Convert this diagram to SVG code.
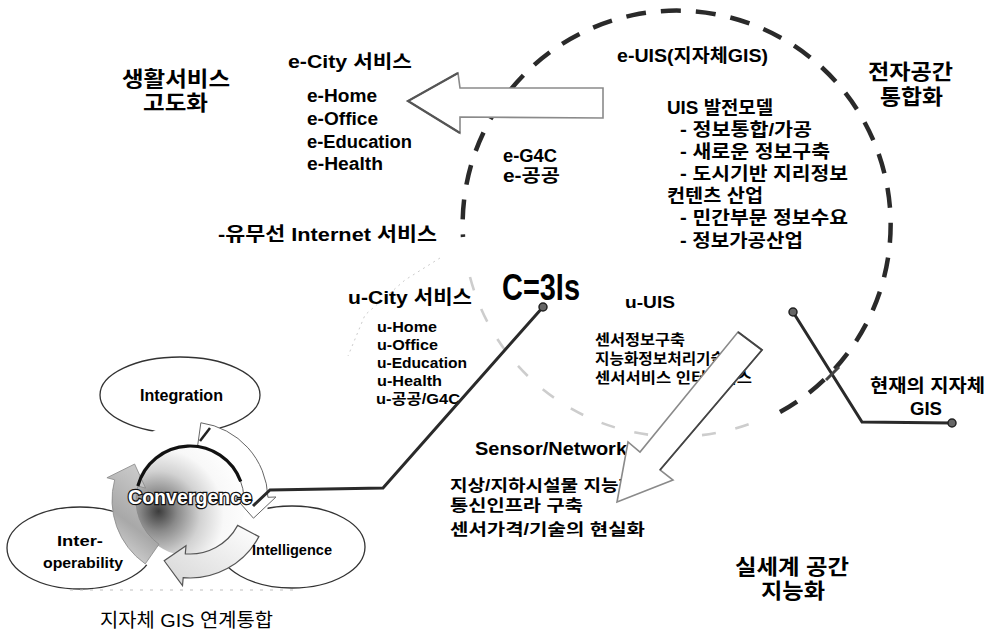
<svg xmlns="http://www.w3.org/2000/svg" width="990" height="636" viewBox="0 0 990 636">
<defs>
<style>
text{fill:#000;font-family:"Liberation Sans","Noto Sans CJK KR",sans-serif;font-weight:bold}
.h{font-size:21px}
.m{font-size:18px}
.s{font-size:15px}
.xs{font-size:14.5px}
.lat{font-family:"Liberation Sans",Arial,sans-serif}
.reg{font-weight:normal}
.ell{fill:none;stroke:#333;stroke-width:1.3}
.dash{fill:none;stroke:#2a2a2a;stroke-width:4.5;stroke-dasharray:20 15}
.faint{fill:none;stroke:#cdcdcd;stroke-width:2.6;stroke-dasharray:14 20}
.conn{fill:none;stroke:#2a2a2a;stroke-width:3;stroke-linejoin:miter}
.dot{fill:#666;stroke:#222;stroke-width:1.5}
.hollow{fill:#fff;stroke:#8a8a8a;stroke-width:1.6;stroke-linejoin:miter}
</style>
<radialGradient id="shade" cx="0.2" cy="0.65" r="0.85" fx="0.22" fy="0.6">
<stop offset="0" stop-color="#3c3c3c"/>
<stop offset="0.2" stop-color="#8a8a8a"/>
<stop offset="0.45" stop-color="#d2d2d2"/>
<stop offset="0.7" stop-color="#f8f8f8"/>
<stop offset="1" stop-color="#ffffff"/>
</radialGradient>
<linearGradient id="gC" x1="0" y1="1" x2="0.4" y2="0">
<stop offset="0" stop-color="#e6e6e6"/>
<stop offset="0.5" stop-color="#a8a8a8"/>
<stop offset="1" stop-color="#c8c8c8"/>
</linearGradient>
<linearGradient id="gB" x1="1" y1="0" x2="0" y2="1">
<stop offset="0" stop-color="#ffffff"/>
<stop offset="1" stop-color="#d6d6d6"/>
</linearGradient>
</defs>

<rect width="990" height="636" fill="#fff"/>

<!-- big dashed circle -->
<g id="eUIS-circle">
<path class="dash" d="M780,412 A214,214 0 1 0 463,237"/>
<path class="faint" d="M470,277 A214,214 0 0 0 752,423"/>
<path d="M440,258 L405,280 L365,315 L348,356" fill="none" stroke="#cccccc" stroke-width="1" stroke-dasharray="2 4"/>
</g>

<!-- texts -->
<g id="life-service">
<text class="h" x="122" y="86" textLength="108" lengthAdjust="spacingAndGlyphs">생활서비스</text>
<text class="h" x="143" y="110" textLength="65" lengthAdjust="spacingAndGlyphs">고도화</text>
</g>
<g id="ecity">
<text class="m" x="288" y="68" textLength="124" lengthAdjust="spacingAndGlyphs">e-City 서비스</text>
<text class="m" x="307" y="102" textLength="70" lengthAdjust="spacingAndGlyphs">e-Home</text>
<text class="m" x="307" y="125" textLength="71" lengthAdjust="spacingAndGlyphs">e-Office</text>
<text class="m" x="307" y="148" textLength="105" lengthAdjust="spacingAndGlyphs">e-Education</text>
<text class="m" x="307" y="170" textLength="76" lengthAdjust="spacingAndGlyphs">e-Health</text>
</g>
<g id="internet">
<text x="218" y="241" font-size="19" textLength="219" lengthAdjust="spacingAndGlyphs">-유무선 Internet 서비스</text>
</g>
<g id="euis">
<text class="m" x="617" y="62" textLength="151" lengthAdjust="spacingAndGlyphs">e-UIS(지자체GIS)</text>
<text class="m" x="667" y="114" textLength="106" lengthAdjust="spacingAndGlyphs">UIS 발전모델</text>
<text class="m" x="680" y="136" textLength="132" lengthAdjust="spacingAndGlyphs">- 정보통합/가공</text>
<text class="m" x="680" y="158" textLength="150" lengthAdjust="spacingAndGlyphs">- 새로운 정보구축</text>
<text class="m" x="680" y="180" textLength="168" lengthAdjust="spacingAndGlyphs">- 도시기반 지리정보</text>
<text class="m" x="667" y="202" textLength="96" lengthAdjust="spacingAndGlyphs">컨텐츠 산업</text>
<text class="m" x="680" y="224" textLength="168" lengthAdjust="spacingAndGlyphs">- 민간부문 정보수요</text>
<text class="m" x="680" y="247" textLength="123" lengthAdjust="spacingAndGlyphs">- 정보가공산업</text>
</g>
<g id="space-integration">
<text class="h" x="868" y="79" textLength="85" lengthAdjust="spacingAndGlyphs">전자공간</text>
<text class="h" x="880" y="104" textLength="63" lengthAdjust="spacingAndGlyphs">통합화</text>
</g>
<g id="eg4c">
<text class="m" x="503" y="162" textLength="54" lengthAdjust="spacingAndGlyphs">e-G4C</text>
<text class="m" x="503" y="182" textLength="57" lengthAdjust="spacingAndGlyphs">e-공공</text>
</g>
<g id="c3is">
<text x="502" y="300" font-size="36" textLength="78" lengthAdjust="spacingAndGlyphs">C=3Is</text>
</g>
<g id="ucity">
<text x="348" y="304" font-size="19" textLength="124" lengthAdjust="spacingAndGlyphs">u-City 서비스</text>
<text class="s" x="377" y="332" textLength="60" lengthAdjust="spacingAndGlyphs">u-Home</text>
<text class="s" x="377" y="350" textLength="61" lengthAdjust="spacingAndGlyphs">u-Office</text>
<text class="s" x="377" y="368" textLength="90" lengthAdjust="spacingAndGlyphs">u-Education</text>
<text class="s" x="377" y="386" textLength="65" lengthAdjust="spacingAndGlyphs">u-Health</text>
<text class="s" x="376" y="404" textLength="84" lengthAdjust="spacingAndGlyphs">u-공공/G4C</text>
</g>
<g id="uuis">
<text x="625" y="308" font-size="17" textLength="50" lengthAdjust="spacingAndGlyphs">u-UIS</text>
<text class="xs" x="595" y="345" textLength="90" lengthAdjust="spacingAndGlyphs">센서정보구축</text>
<text class="xs" x="595" y="364" textLength="130" lengthAdjust="spacingAndGlyphs">지능화정보처리기술</text>
<text class="xs" x="595" y="383" textLength="157" lengthAdjust="spacingAndGlyphs">센서서비스 인터페이스</text>
</g>
<g id="sensor">
<text class="m" x="475" y="455" textLength="152" lengthAdjust="spacingAndGlyphs">Sensor/Network</text>
<text x="450" y="491" font-size="16" textLength="186" lengthAdjust="spacingAndGlyphs">지상/지하시설물 지능화</text>
<text x="450" y="511" font-size="16" textLength="133" lengthAdjust="spacingAndGlyphs">통신인프라 구축</text>
<text x="450" y="535" font-size="16" textLength="195" lengthAdjust="spacingAndGlyphs">센서가격/기술의 현실화</text>
</g>
<g id="real-space">
<text class="h" x="735" y="574" textLength="114" lengthAdjust="spacingAndGlyphs">실세계 공간</text>
<text class="h" x="761" y="598" textLength="64" lengthAdjust="spacingAndGlyphs">지능화</text>
</g>
<g id="current-gis">
<text class="m" x="870" y="392" textLength="115" lengthAdjust="spacingAndGlyphs">현재의 지자체</text>
<text class="m lat" x="910" y="415" textLength="32" lengthAdjust="spacingAndGlyphs">GIS</text>
</g>

<!-- hollow arrows -->
<g id="arrow-ecity">
<polygon class="hollow" points="408,101 458,73 460,88 603,88 603,118 460,117 460,133"/>
<polyline points="458,73 408,101 460,133" fill="none" stroke="#555" stroke-width="2.2"/>
</g>
<g id="arrow-sensor">
<polygon class="hollow" points="738,332 762,350 660,470 673,480 617,502 628,442 640,452"/>
<polyline points="738,332 762,350 660,470" fill="none" stroke="#444" stroke-width="1.8"/>
</g>

<!-- convergence cycle -->
<g id="cycle">
<ellipse class="ell" cx="180" cy="395" rx="80" ry="38"/>
<ellipse class="ell" cx="80" cy="548" rx="73" ry="41"/>
<ellipse class="ell" cx="292" cy="547" rx="73" ry="41"/>
<circle cx="190" cy="500" r="78" fill="#fff"/>
<circle cx="190" cy="500" r="56" fill="url(#shade)"/>
<path d="M200.86,422.76 A78,78 0 0 1 267.95,497.28 L275.95,497.00 L253.45,518.19 L235.97,498.39 L243.97,498.12 A54,54 0 0 0 197.52,446.52 Z" fill="#fff" stroke="#666" stroke-width="1"/>
<path d="M258.87,536.62 A78,78 0 0 1 183.20,577.70 L182.50,585.67 L164.21,560.75 L185.99,545.83 L185.29,553.79 A54,54 0 0 0 237.68,525.35 Z" fill="url(#gB)" stroke="#555" stroke-width="1.2"/>
<path d="M145.26,563.90 A78,78 0 0 1 114.66,479.81 L106.93,477.74 L134.65,464.06 L145.57,488.09 L137.84,486.02 A54,54 0 0 0 159.03,544.24 Z" fill="url(#gC)" stroke="#888" stroke-width="0.8"/>
<path d="M137.84,486.02 A54,54 0 0 1 240.74,481.53" fill="none" stroke="#111" stroke-width="3.2"/>
<line x1="200" y1="441" x2="210" y2="428" stroke="#222" stroke-width="2.5"/>
<text class="lat" x="140" y="401" font-size="16" textLength="83" lengthAdjust="spacingAndGlyphs">Integration</text>
<text class="lat" x="57" y="546" font-size="15" textLength="46" lengthAdjust="spacingAndGlyphs">Inter-</text>
<text class="lat" x="43" y="568" font-size="15" textLength="80" lengthAdjust="spacingAndGlyphs">operability</text>
<text class="lat" x="252" y="555" font-size="15" textLength="80" lengthAdjust="spacingAndGlyphs">Intelligence</text>
<text class="lat" x="128" y="504" font-size="21" textLength="124" lengthAdjust="spacingAndGlyphs" style="fill:#fff;stroke:#111;stroke-width:2.6;paint-order:stroke">Convergence</text>
<line x1="70" y1="590" x2="300" y2="590" stroke="#c0c0c0" stroke-width="1.2" stroke-dasharray="3 7"/>
<text class="reg" x="100" y="627" font-size="19" textLength="173" lengthAdjust="spacingAndGlyphs">지자체 GIS 연계통합</text>
</g>

<!-- connectors -->
<g id="connectors">
<polyline class="conn" points="543,307 383,488 270,490 253,506"/>
<circle class="dot" cx="543" cy="307" r="4"/>
<polyline class="conn" points="793,312 862,422 952,423"/>
<circle class="dot" cx="793" cy="312" r="4"/>
<circle class="dot" cx="952" cy="423" r="4"/>
<line x1="826" y1="380" x2="839" y2="367" stroke="#444" stroke-width="3"/>
</g>
</svg>
